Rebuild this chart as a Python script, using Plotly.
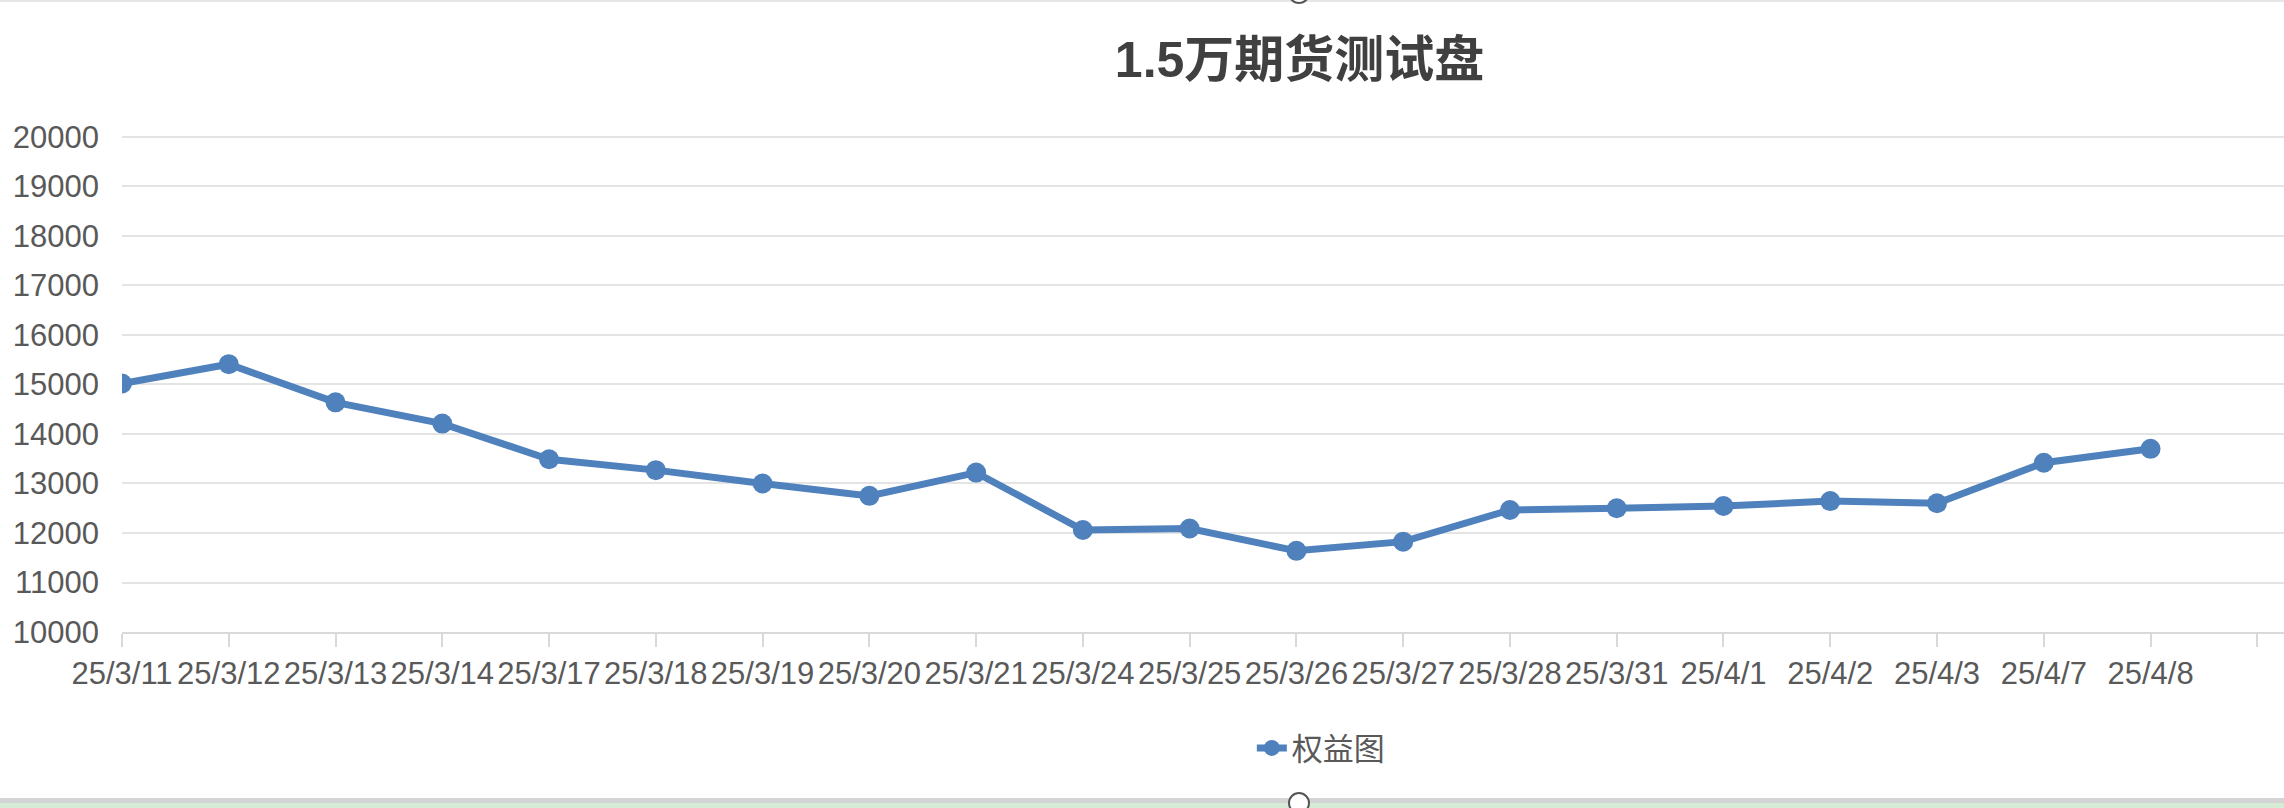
import plotly.graph_objects as go

# 数据：日期与权益
dates = ["25/3/11", "25/3/12", "25/3/13", "25/3/14", "25/3/17", "25/3/18", "25/3/19",
         "25/3/20", "25/3/21", "25/3/24", "25/3/25", "25/3/26", "25/3/27", "25/3/28",
         "25/3/31", "25/4/1", "25/4/2", "25/4/3", "25/4/7", "25/4/8"]
equity = [15020, 15410, 14640, 14210, 13490, 13270, 13000, 12750, 13220, 12060,
          12090, 11640, 11825, 12465, 12500, 12545, 12645, 12600, 13420, 13700]
y_ticks = [10000, 11000, 12000, 13000, 14000, 15000, 16000, 17000, 18000, 19000, 20000]

BLUE = "#4F81BD"
GREY_TXT = "#595959"
GRID = "#e4e4e4"
AXIS = "#d9d9d9"
FONT = "Liberation Sans, Noto Sans CJK SC, sans-serif"

idx = list(range(len(dates)))
tick_pos = list(range(len(dates) + 1))   # Excel 风格：类别边界多一格
tick_txt = dates + [""]
x_range = [0, len(dates) + 0.25]

fig = go.Figure()
fig.add_trace(go.Scatter(
    x=idx,
    y=equity,
    mode="lines+markers",
    name="权益图",
    line=dict(color=BLUE, width=7),
    marker=dict(color=BLUE, size=20),
))

fig.update_layout(
    width=2284,
    height=808,
    plot_bgcolor="white",
    paper_bgcolor="white",
    font=dict(family=FONT, color=GREY_TXT, size=31),
    margin=dict(l=122, r=0, t=135, b=176),
    title=dict(
        text="<b>1.5万期货测试盘</b>",
        x=0.569, xanchor="center",
        y=0.926, yanchor="middle",
        font=dict(size=50, color="#404040", family=FONT),
    ),
    xaxis=dict(
        range=x_range,
        tickmode="array",
        tickvals=tick_pos,
        ticktext=tick_txt,
        tickangle=0,
        ticks="outside",
        ticklen=13,
        tickwidth=2,
        tickcolor=AXIS,
        showgrid=False,
        zeroline=False,
        showline=True,
        linecolor=AXIS,
        linewidth=2,
        tickfont=dict(size=31, color=GREY_TXT),
    ),
    xaxis2=dict(
        overlaying="x",
        anchor="y",
        side="bottom",
        range=x_range,
        tickmode="array",
        tickvals=tick_pos,
        ticks="inside",
        ticklen=13,
        tickwidth=2,
        tickcolor=AXIS,
        showticklabels=False,
        showgrid=False,
        zeroline=False,
        showline=False,
    ),
    yaxis=dict(
        range=[10000, 20040],   # 稍留余量，让 20000 的网格线显示出来
        tickmode="array",
        tickvals=y_ticks,
        tickformat="d",
        showgrid=True,
        gridcolor=GRID,
        gridwidth=2,
        zeroline=False,
        showline=False,
        ticklabelstandoff=22,
        tickfont=dict(size=31, color=GREY_TXT),
    ),
    showlegend=True,
    legend=dict(
        orientation="h",
        x=0.5545, xanchor="center",
        y=-0.234, yanchor="middle",
        font=dict(size=31, color=GREY_TXT),
        bgcolor="rgba(0,0,0,0)",
    ),
    hovermode="x unified",
)

# 截图边缘：顶部细线、底部表格底色条与选中手柄
fig.add_shape(type="rect", xref="paper", yref="paper", ysizemode="pixel",
              yanchor=1, x0=-0.1, x1=1.1, y0=133, y1=135,
              fillcolor="#e6e6e6", line_width=0, layer="below")
fig.add_shape(type="rect", xref="paper", yref="paper", ysizemode="pixel",
              yanchor=0, x0=-0.1, x1=1.1, y0=-166, y1=-171,
              fillcolor="#d4d4d4", line_width=0, layer="below")
fig.add_shape(type="rect", xref="paper", yref="paper", ysizemode="pixel",
              yanchor=0, x0=-0.1, x1=1.1, y0=-171, y1=-180,
              fillcolor="#d7ecd7", line_width=0, layer="below")
for anchor, y0, y1 in [(1, 132, 152), (0, -161, -181)]:
    fig.add_shape(type="circle", xref="paper", yref="paper",
                  xsizemode="pixel", ysizemode="pixel",
                  xanchor=0.5444, yanchor=anchor,
                  x0=-10, x1=10, y0=y0, y1=y1,
                  fillcolor="white", line=dict(color="#555555", width=2))

# 去掉页面默认边距，让图与窗口左上角对齐；隐藏工具栏
fig.write_html("out.html",
               config={"displayModeBar": False},
               post_script="document.body.style.margin='0';")
